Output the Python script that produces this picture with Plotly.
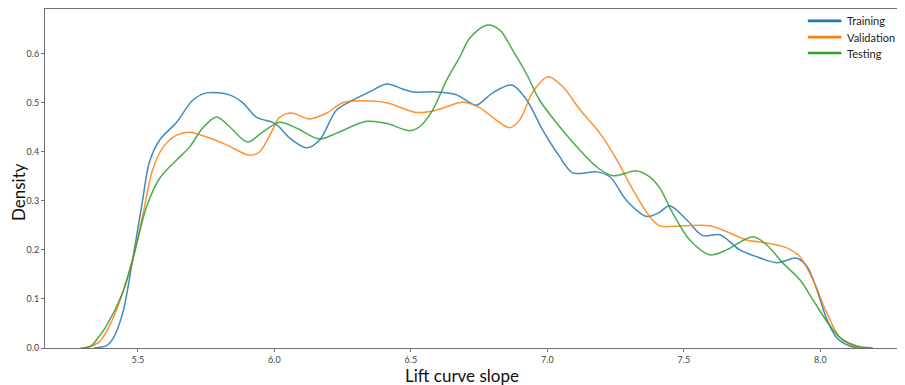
import plotly.graph_objects as go

# Training (blue)
train_x = [5.34, 5.385, 5.407, 5.444, 5.481, 5.517, 5.543, 5.58, 5.642, 5.701, 5.752, 5.836, 5.884, 5.935,
           5.994, 6.019, 6.056, 6.118, 6.166, 6.228, 6.287, 6.349, 6.411, 6.47, 6.507, 6.595, 6.668, 6.716,
           6.741, 6.80, 6.87, 6.925, 6.983, 7.045, 7.093, 7.181, 7.229, 7.291, 7.364, 7.412, 7.448, 7.511,
           7.569, 7.632, 7.705, 7.767, 7.841, 7.914, 7.951, 7.987, 8.024, 8.061, 8.108, 8.145]
train_y = [0.0, 0.005, 0.017, 0.07, 0.18, 0.30, 0.38, 0.424, 0.46, 0.505, 0.52, 0.516, 0.50, 0.47,
           0.46, 0.45, 0.428, 0.408, 0.424, 0.485, 0.505, 0.522, 0.538, 0.528, 0.522, 0.522, 0.516, 0.50,
           0.495, 0.52, 0.536, 0.505, 0.444, 0.39, 0.357, 0.359, 0.349, 0.30, 0.268, 0.277, 0.29, 0.261,
           0.229, 0.231, 0.20, 0.186, 0.174, 0.183, 0.166, 0.119, 0.058, 0.02, 0.004, 0.0]

# Validation (orange)
val_x = [5.31, 5.36, 5.407, 5.481, 5.517, 5.554, 5.591, 5.642, 5.69, 5.752, 5.825, 5.909, 5.946, 5.994,
         6.019, 6.063, 6.129, 6.192, 6.25, 6.313, 6.411, 6.521, 6.595, 6.69, 6.752, 6.80, 6.862, 6.899,
         6.947, 7.002, 7.056, 7.119, 7.192, 7.254, 7.313, 7.375, 7.412, 7.496, 7.595, 7.657, 7.731, 7.804,
         7.877, 7.925, 7.973, 8.024, 8.072, 8.134, 8.18]
val_y = [0.0, 0.013, 0.058, 0.18, 0.268, 0.363, 0.408, 0.434, 0.44, 0.43, 0.414, 0.393, 0.40, 0.445,
         0.47, 0.479, 0.467, 0.479, 0.50, 0.504, 0.50, 0.48, 0.485, 0.501, 0.49, 0.47, 0.449, 0.465,
         0.522, 0.553, 0.533, 0.486, 0.438, 0.384, 0.323, 0.268, 0.249, 0.249, 0.249, 0.237, 0.22, 0.214,
         0.204, 0.186, 0.139, 0.071, 0.021, 0.002, 0.0]

# Testing (green)
test_x = [5.29, 5.33, 5.36, 5.385, 5.444, 5.481, 5.532, 5.58, 5.642, 5.69, 5.737, 5.788, 5.836, 5.902,
          5.957, 6.019, 6.082, 6.166, 6.228, 6.338, 6.411, 6.496, 6.532, 6.58, 6.631, 6.679, 6.716, 6.778,
          6.826, 6.873, 6.925, 6.972, 7.035, 7.108, 7.181, 7.24, 7.328, 7.375, 7.412, 7.459, 7.522, 7.595,
          7.657, 7.753, 7.804, 7.863, 7.925, 7.973, 8.024, 8.072, 8.134, 8.192]
test_y = [0.0, 0.005, 0.025, 0.045, 0.112, 0.18, 0.288, 0.346, 0.383, 0.41, 0.448, 0.471, 0.451, 0.42,
          0.44, 0.46, 0.448, 0.426, 0.438, 0.462, 0.458, 0.443, 0.451, 0.485, 0.546, 0.593, 0.632, 0.658,
          0.648, 0.607, 0.557, 0.505, 0.458, 0.41, 0.369, 0.351, 0.361, 0.349, 0.326, 0.275, 0.22, 0.19,
          0.20, 0.227, 0.21, 0.173, 0.139, 0.098, 0.054, 0.021, 0.004, 0.0]

x_ticks = [5.5, 6.0, 6.5, 7.0, 7.5, 8.0]
y_ticks = [0.0, 0.1, 0.2, 0.3, 0.4, 0.5, 0.6]

series = [("Training", train_x, train_y, "#1f77b4"),
          ("Validation", val_x, val_y, "#ff7f0e"),
          ("Testing", test_x, test_y, "#2ca02c")]

fig = go.Figure()
for name, xs, ys, c in series:
    fig.add_trace(go.Scatter(x=xs, y=ys, mode="lines", name=name, showlegend=False,
                             line=dict(color=c, width=1.5, shape="spline", smoothing=0.9),
                             opacity=0.85))

font = "Lato, 'Open Sans', sans-serif"

# legend drawn as line samples + labels (paper coordinates)
leg_rows = [0.965, 0.917, 0.870]
for (name, xs, ys, c), yy in zip(series, leg_rows):
    fig.add_shape(type="line", xref="paper", yref="paper", x0=0.887, x1=0.926, y0=yy, y1=yy,
                  line=dict(color=c, width=2.6))
    fig.add_annotation(text=name, xref="paper", yref="paper", x=0.931, y=yy,
                       xanchor="left", yanchor="middle", showarrow=False, borderpad=0,
                       font=dict(family=font, size=11, color="#222"))

# page body has an 8px offset, so the figure is sized to fill the rest of the window
fig.update_layout(
    width=897, height=377,
    margin=dict(l=37, r=0, t=1, b=37, autoexpand=False),
    plot_bgcolor="white", paper_bgcolor="white",
    showlegend=False,
    xaxis=dict(range=[5.16, 8.31], tickvals=x_ticks, ticktext=[f"{v:.1f}" for v in x_ticks],
               showgrid=False, zeroline=False, showline=True, mirror=True, automargin=False,
               linecolor="#707070", linewidth=1, ticks="outside", ticklen=3,
               tickcolor="#707070", tickfont=dict(family=font, size=9, color="#444")),
    yaxis=dict(range=[0, 0.691], tickvals=y_ticks, ticktext=[f"{v:.1f}" for v in y_ticks],
               showgrid=False, zeroline=False, showline=True, mirror=False, automargin=False,
               linecolor="#707070", linewidth=1, ticks="outside", ticklen=3,
               tickcolor="#707070", tickfont=dict(family=font, size=9, color="#444")),
)
fig.add_annotation(text="Lift curve slope", xref="paper", yref="paper",
                   x=0.485, y=0, yshift=-15, xanchor="center", yanchor="top", showarrow=False,
                   font=dict(family=font, size=17, color="#111"))
fig.add_annotation(text="Density", xref="paper", yref="paper", textangle=-90,
                   x=0, xshift=-27, y=0.46, xanchor="center", yanchor="middle", showarrow=False,
                   font=dict(family=font, size=17, color="#111"))

fig.write_html("out.html")
